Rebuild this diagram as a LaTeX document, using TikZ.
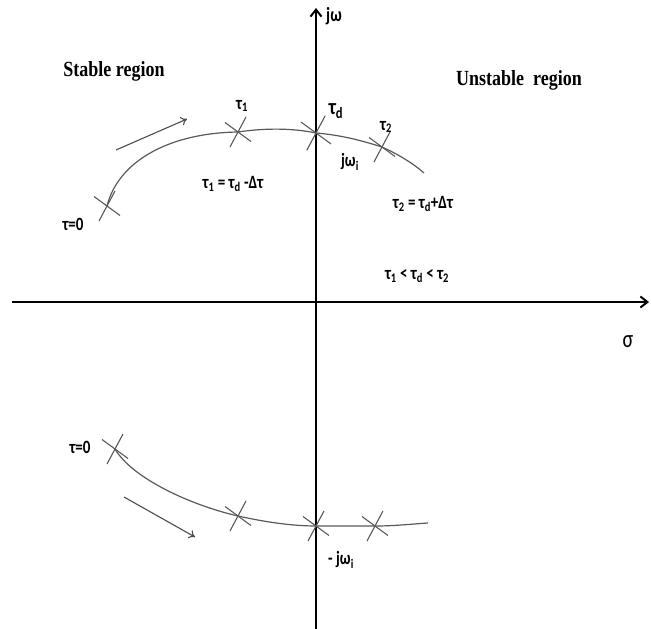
\documentclass[tikz,border=0pt]{standalone}
\usepackage{graphicx}
\usepackage{fontspec}
\setmainfont{Liberation Serif}
\newfontfamily\lblfont{Carlito}
\newcommand\tallbox[1]{\scalebox{1}[1.25]{#1}}
\usetikzlibrary{arrows.meta}
\begin{document}
\begin{tikzpicture}[x=1pt,y=-1pt,
  axis/.style={line width=2.6pt,-{Straight Barb[length=7pt,width=11pt,line width=2pt]}},
  locus/.style={draw=black!65,line width=1.2pt},
  crossline/.style={draw=black!65,line width=1.1pt},
  dirarrow/.style={black!70,line width=1.1pt,-{To[length=6pt,width=9pt]}},
  lbl/.style={font=\lblfont\bfseries\fontsize{15}{15}\selectfont,inner sep=0pt},
  region/.style={font=\bfseries\fontsize{18}{18}\selectfont,inner sep=0pt}]
\useasboundingbox (0,0) rectangle (651,629);
% axes
\coordinate (yb) at (316,629);
\coordinate (yt) at (316,8);
\coordinate (xl) at (12,302);
\coordinate (xr) at (649,302);
\draw[axis] (yb) -- (yt);
\draw[axis] (xl) -- (xr);
% upper locus points
\coordinate (u0) at (107,206);
\coordinate (u1) at (238,132);
\coordinate (ud) at (316,133);
\coordinate (u2) at (382,147);
\coordinate (ue) at (424,173);
\draw[locus] (u0) .. controls (118,162) and (168,133) .. (u1)
  .. controls (265,128) and (292,128) .. (ud)
  .. controls (340,135) and (360,140) .. (u2)
  .. controls (400,155) and (415,165) .. (ue);
% lower locus points
\coordinate (l0) at (115,449);
\coordinate (l1) at (238,516);
\coordinate (ld) at (316,526);
\coordinate (l2) at (375,526);
\coordinate (le) at (428,523);
\draw[locus] (l0) .. controls (132,478) and (190,505) .. (l1)
  .. controls (265,522) and (292,526) .. (ld)
  .. controls (340,526) and (360,526) .. (l2)
  .. controls (395,526) and (412,524) .. (le);
% crosses
\foreach \p/\s in {u0/1,u1/1,ud/1.15,u2/1,l0/1,l1/1,ld/1,l2/1}{
  \draw[crossline] ([shift={(-8*\s,15*\s)}]\p) -- ([shift={(8*\s,-15*\s)}]\p);
  \draw[crossline] ([shift={(-13*\s,-9.5*\s)}]\p) -- ([shift={(13*\s,9.5*\s)}]\p);
}
% direction arrows
\coordinate (ua) at (116,150);
\coordinate (ub) at (187,119);
\draw[dirarrow] (ua) -- (ub);
\coordinate (la) at (124,497);
\coordinate (lb) at (195,537);
\draw[dirarrow] (la) -- (lb);
% labels
\node[lbl,font=\lblfont\bfseries\fontsize{16}{16}\selectfont] (jw) at (334,16) {\tallbox{jω}};
\node[lbl,font=\lblfont\fontsize{20}{20}\selectfont] (sig) at (628,342) {\tallbox{σ}};
\node[region] (st) at (114,71) {\scalebox{1}[1.2]{Stable region}};
\node[region] (un) at (519,80) {\scalebox{1}[1.2]{Unstable\ \ region}};
\node[lbl] (t1) at (242,106) {\tallbox{τ\textsubscript{1}}};
\node[lbl,font=\lblfont\bfseries\fontsize{18}{18}\selectfont] (td) at (336,111) {\tallbox{τ\textsubscript{d}}};
\node[lbl] (t2) at (386,127) {\tallbox{τ\textsubscript{2}}};
\node[lbl] (jwi) at (350,162) {\tallbox{jω\textsubscript{i}}};
\node[lbl] (e1) at (233,184) {\tallbox{τ\textsubscript{1} = τ\textsubscript{d} -Δτ}};
\node[lbl] (e2) at (423,204) {\tallbox{τ\textsubscript{2} = τ\textsubscript{d}+Δτ}};
\node[lbl] (e3) at (417,276) {\tallbox{τ\textsubscript{1} < τ\textsubscript{d} < τ\textsubscript{2}}};
\node[lbl] (z1) at (73,224) {\tallbox{τ=0}};
\node[lbl] (z2) at (80,447) {\tallbox{τ=0}};
\node[lbl] (mjw) at (341,560) {\tallbox{- jω\textsubscript{i}}};
\end{tikzpicture}
\end{document}
